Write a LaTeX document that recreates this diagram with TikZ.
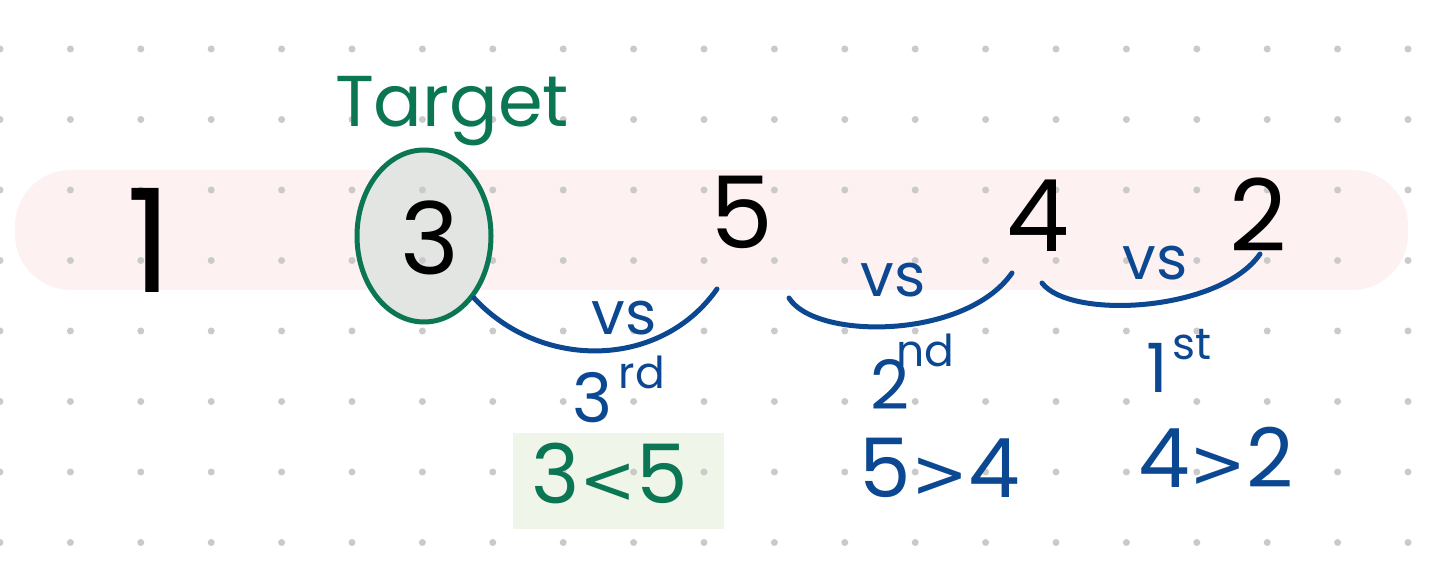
\documentclass[tikz,border=0pt]{standalone}
\usepackage{fontspec}
\setmainfont{Poppins}
\newfontfamily\relfont{DejaVu Sans}
\usetikzlibrary{shapes.geometric}
\definecolor{inkblue}{RGB}{12,72,145}
\definecolor{inkgreen}{RGB}{10,118,84}
\definecolor{bandpink}{RGB}{253,241,241}
\definecolor{dotgray}{RGB}{202,202,202}
\definecolor{ovalfill}{RGB}{226,229,226}
\definecolor{boxgreen}{RGB}{239,246,233}
\newcommand{\bigrel}[1]{{\relfont\fontsize{34}{34}\selectfont #1}}
\tikzset{
  num/.style={inner sep=0pt, text=black, font=\fontsize{50}{50}\selectfont},
  vslabel/.style={inner sep=0pt, text=inkblue, font=\fontsize{30}{30}\selectfont},
  ordbig/.style={inner sep=0pt, text=inkblue, font=\fontsize{34}{34}\selectfont},
  ordsup/.style={inner sep=0pt, text=inkblue, font=\fontsize{22}{22}\selectfont},
  cmp/.style={inner sep=0pt, font=\fontsize{41}{41}\selectfont},
  brace/.style={draw=inkblue, line width=2.5pt, line cap=round},
  ovalshape/.style={ellipse, inner sep=0pt, minimum width=67pt, minimum height=86pt},
}
\begin{document}
\begin{tikzpicture}[x=0.5pt,y=-0.5pt]
\useasboundingbox (0,0) rectangle (1440,576);
\fill[white] (0,0) rectangle (1440,576);
% band
\fill[bandpink, rounded corners=28pt] (15,170) rectangle (1408,290);
% oval fill and comparison box
\node[ovalshape, fill=ovalfill] (oval) at (424,236) {};
\node[fill=boxgreen, inner sep=0pt, minimum width=105.5pt, minimum height=48pt] (cmpbox) at (618.5,481) {};
% dot grid
\foreach \i in {0,...,20}{
  \foreach \j in {0,...,7}{
    \fill[dotgray] (70.4*\i, 49+70.5*\j) circle[radius=1.75pt];
  }
}
% oval outline
\draw[inkgreen, line width=2.5pt] (oval.center) ellipse [x radius=33.5pt, y radius=43pt];
% title
\node[inner sep=0pt, anchor=base, text=inkgreen, font=\fontsize{36}{36}\selectfont] (target) at (452,127) {Target};
% numbers
\node[num, font=\fontsize{72}{72}\selectfont] (n1) at (150,240) {1};
\node[num] (n3) at (430,238) {3};
\node[num] (n5) at (742,212) {5};
\node[num] (n4) at (1038,216) {4};
\node[num] (n2) at (1258,215) {2};
% braces
\coordinate (a1s) at (474,298); \coordinate (a1e) at (717,289);
\coordinate (a2s) at (789,298); \coordinate (a2e) at (1012,273);
\coordinate (a3s) at (1042,283); \coordinate (a3e) at (1260,254);
\draw[brace] (a1s) .. controls (540,370) and (660,370) .. (a1e);
\draw[brace] (a2s) .. controls (815,340) and (965,340) .. (a2e);
\draw[brace] (a3s) .. controls (1070,320) and (1220,312) .. (a3e);
\node[vslabel] (vs1) at (624,318) {vs};
\node[vslabel] (vs2) at (893,280) {vs};
\node[vslabel] (vs3) at (1155,263) {vs};
% ordinals
\node[ordbig] (o3) at (593,398) {3};
\node[ordsup] (o3s) at (642,372) {rd};
\node[ordbig] (o2) at (890,384) {2};
\node[ordsup] (o2s) at (925,350) {nd};
\node[ordbig] (o1) at (1157,368) {1};
\node[ordsup] (o1s) at (1192,345) {st};
% comparisons
\node[cmp, text=inkgreen, anchor=base] (c1) at (610,504) {3\bigrel{<}5};
\node[cmp, text=inkblue, anchor=base] (c2) at (940,498) {5\bigrel{>}4};
\node[cmp, text=inkblue, anchor=base] (c3) at (1216,488) {4\bigrel{>}2};
\end{tikzpicture}
\end{document}
